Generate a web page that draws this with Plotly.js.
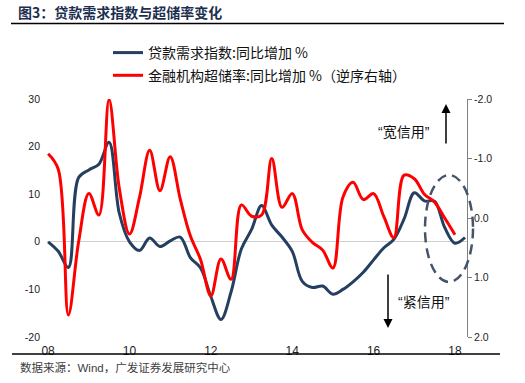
<!DOCTYPE html>
<html>
<head>
<meta charset="utf-8">
<script src="https://cdn.plot.ly/plotly-3.0.1.min.js"></script>
<style>html,body{margin:0;padding:0;background:#fff;}#chart{width:525px;height:383px;}</style>
</head>
<body>
<div id="chart"></div>
<script>
// Quarterly dates
const quarters = ['2008-01-01','2008-04-01','2008-07-01','2008-10-01','2009-01-01','2009-04-01','2009-07-01','2009-10-01',
  '2010-01-01','2010-04-01','2010-07-01','2010-10-01','2011-01-01','2011-04-01','2011-07-01','2011-10-01',
  '2012-01-01','2012-04-01','2012-07-01','2012-10-01','2013-01-01','2013-04-01','2013-07-01','2013-10-01',
  '2014-01-01','2014-04-01','2014-07-01','2014-10-01','2015-01-01','2015-04-01','2015-07-01','2015-10-01',
  '2016-01-01','2016-04-01','2016-07-01','2016-10-01','2017-01-01','2017-04-01','2017-07-01','2017-10-01',
  '2018-01-01','2018-04-01'];
// 贷款需求指数:同比增加 % (left axis)
const loanDemand = [0.0,-2.0,-5.4,13.5,15.1,16.3,20.9,6.0,0.0,-1.8,0.8,-1.0,0.2,1.0,-3.3,-5.5,
  -11.5,-16.3,-10.5,-1.5,2.6,7.6,3.5,1.0,-2.0,-8.3,-9.6,-9.3,-11.0,-10.0,-8.4,-6.4,
  -3.8,-1.3,0.5,4.8,10.3,8.6,8.5,3.0,-0.3,0.9];
// 金融机构超储率:同比增加 % (right axis, reversed)
const excessReserve = [-1.08,-0.82,1.63,0.40,-0.41,-0.05,-1.99,-0.50,0.27,-0.35,-1.14,-0.46,-1.03,-0.32,0.30,0.70,
  1.31,0.69,1.03,-0.22,-0.03,-0.05,-1.00,-0.18,-0.41,0.20,0.41,0.54,0.84,-0.35,-0.60,-0.31,
  -0.41,-0.03,0.33,-0.72,-0.66,-0.40,-0.27,0.00,0.28];

const xTickVals = ['2008-01-01','2010-01-01','2012-01-01','2014-01-01','2016-01-01','2018-01-01'];
const xTickText = ['08','10','12','14','16','18'];
const yLeftVals = [-20,-10,0,10,20,30];
const yLeftText = ['-20','-10','0','10','20','30'];
const yRightVals = [-2,-1,0,1,2];
const yRightText = ['-2.0','-1.0','0.0','1.0','2.0'];

const seriesNames = ['贷款需求指数:同比增加 %','金融机构超储率:同比增加 %（逆序右轴）'];
const titleText = '图3：贷款需求指数与超储率变化';
const sourceText = '数据来源：Wind，广发证券发展研究中心';

const L = 47, R = 58, T = 99, B = 46, W = 525, H = 383;
const pw = W - L - R, ph = H - T - B;
const pxX = px => (px - L) / pw;
const pxY = py => (H - B - py) / ph;

const tickFont = {family: 'Liberation Sans, Arial, sans-serif', size: 10.5, color: '#222'};
const cjk = 'Liberation Sans, Arial, Noto Sans CJK SC, sans-serif';

const traces = [
  {x: quarters.slice(0, loanDemand.length), y: loanDemand, name: seriesNames[0], type: 'scatter', mode: 'lines',
   line: {color: '#243F60', width: 3, shape: 'spline', smoothing: 1}, yaxis: 'y', legendgroup: 'a'},
  {x: quarters.slice(0, excessReserve.length), y: excessReserve, name: seriesNames[1], type: 'scatter', mode: 'lines',
   line: {color: '#FF0000', width: 3, shape: 'spline', smoothing: 1}, yaxis: 'y2', legendgroup: 'b'}
];

const layout = {
  width: W, height: H,
  margin: {l: L, r: R, t: T, b: B, pad: 0},
  paper_bgcolor: '#fff', plot_bgcolor: '#fff',
  title: {text: '<b>' + titleText + '</b>', x: 18 / W, xanchor: 'left', xref: 'container',
          y: 1 - 13 / H, yanchor: 'middle', yref: 'container',
          font: {family: 'Noto Sans CJK SC, sans-serif', size: 14, color: '#1c2f4f'}},
  showlegend: true,
  legend: {x: pxX(108), y: pxY(37), xanchor: 'left', yanchor: 'top', bgcolor: 'rgba(0,0,0,0)',
           traceorder: 'grouped', tracegroupgap: 1.5,
           font: {family: 'Noto Sans CJK SC, sans-serif', size: 14, color: '#111'}},
  xaxis: {type: 'date', range: ['2007-12-22', '2018-04-19'], tickvals: xTickVals, ticktext: xTickText,
          showgrid: false, zeroline: false, showline: false, ticks: '', ticklabelstandoff: 5,
          tickfont: {family: 'Liberation Sans, Arial, sans-serif', size: 12, color: '#222'}},
  yaxis: {range: [-20, 30], tickvals: yLeftVals, ticktext: yLeftText, showgrid: false,
          zeroline: true, zerolinecolor: '#d0d0d0', zerolinewidth: 1, showline: false, ticks: '',
          tickfont: tickFont, ticklabelstandoff: 6},
  yaxis2: {overlaying: 'y', side: 'right', range: [2, -2], tickvals: yRightVals, ticktext: yRightText,
           showgrid: false, zeroline: false, showline: true, linecolor: '#808080', linewidth: 1,
           ticks: 'outside', ticklen: 4, tickcolor: '#808080', tickfont: tickFont},
  shapes: [
    {type: 'line', xref: 'paper', yref: 'paper', x0: pxX(11), x1: pxX(504), y0: pxY(23.5), y1: pxY(23.5),
     line: {color: '#000', width: 1.5}},
    {type: 'line', xref: 'paper', yref: 'paper', x0: pxX(12), x1: pxX(500), y0: pxY(354), y1: pxY(354),
     line: {color: '#000', width: 1.5}},
    {type: 'circle', xref: 'paper', yref: 'paper', x0: pxX(425), x1: pxX(473), y0: pxY(282), y1: pxY(175),
     line: {color: '#44546A', width: 2.5, dash: '10px,6px'}}
  ],
  annotations: [
    {xref: 'paper', yref: 'paper', x: pxX(404), y: pxY(131.5), xanchor: 'center', yanchor: 'middle',
     text: '“宽信用”', showarrow: false, font: {family: cjk, size: 14, color: '#111'}},
    {xref: 'paper', yref: 'paper', x: pxX(424), y: pxY(301.5), xanchor: 'center', yanchor: 'middle',
     text: '“紧信用”', showarrow: false, font: {family: cjk, size: 14, color: '#111'}},
    {xref: 'paper', yref: 'paper', x: pxX(446), y: pxY(104), ax: 0, ay: 41, text: '', showarrow: true,
     arrowhead: 2, arrowsize: 1.2, arrowwidth: 1.5, arrowcolor: '#000'},
    {xref: 'paper', yref: 'paper', x: pxX(388), y: pxY(328), ax: 0, ay: -55, text: '', showarrow: true,
     arrowhead: 2, arrowsize: 1.2, arrowwidth: 1.5, arrowcolor: '#000'},
    {xref: 'paper', yref: 'paper', x: pxX(18), y: pxY(367), xanchor: 'left', yanchor: 'middle',
     text: sourceText, showarrow: false,
     font: {family: cjk, size: 11.5, color: '#404040'}}
  ]
};

Plotly.newPlot('chart', traces, layout, {staticPlot: true, displayModeBar: false});
</script>
</body>
</html>
